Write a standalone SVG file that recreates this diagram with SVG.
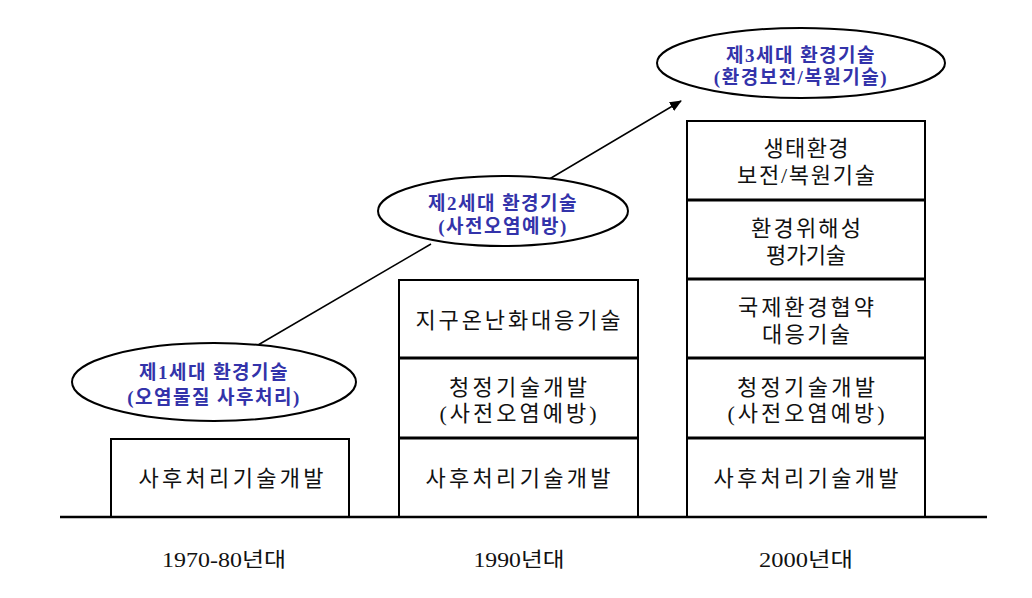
<svg xmlns="http://www.w3.org/2000/svg" width="1032" height="598" viewBox="0 0 1032 598">
<defs>
<style>
.box{fill:#fff;stroke:#000;stroke-width:2}
.div{stroke:#000;stroke-width:3}
.t{font-family:"Liberation Serif","Noto Sans CJK KR",serif;font-size:22px;fill:#111;text-anchor:middle}
.e{fill:#fff;stroke:#000;stroke-width:2}
.et{font-family:"Liberation Serif","Noto Sans CJK KR",serif;font-size:19px;font-weight:bold;fill:#3333aa;text-anchor:middle;letter-spacing:1.5px}
.lab{font-family:"Liberation Serif","Noto Sans CJK KR",serif;font-size:20px;fill:#111;text-anchor:middle}
.ln{stroke:#000;stroke-width:1.5;fill:none}
</style>
<marker id="arr" viewBox="0 0 12 10" refX="11" refY="5" markerWidth="12" markerHeight="10" markerUnits="userSpaceOnUse" orient="auto">
<path d="M0,0 L12,5 L0,10 z" fill="#000"/>
</marker>
</defs>
<rect width="1032" height="598" fill="#fff"/>

<g id="connectors">
<line class="ln" x1="258" y1="345" x2="431" y2="244"/>
<line class="ln" x1="546" y1="181" x2="681" y2="101" marker-end="url(#arr)"/>
</g>

<g id="era1">
<rect class="box" x="111" y="439" width="238" height="78"/>
<text class="t" x="231" y="486" textLength="185" lengthAdjust="spacing">사후처리기술개발</text>
</g>

<g id="era2">
<rect class="box" x="399" y="280" width="239" height="237"/>
<line class="div" x1="399" y1="358" x2="638" y2="358"/>
<line class="div" x1="399" y1="438" x2="638" y2="438"/>
<text class="t" x="518" y="328" textLength="205" lengthAdjust="spacing">지구온난화대응기술</text>
<text class="t" x="518" y="395" textLength="138" lengthAdjust="spacing">청정기술개발</text>
<text class="t" x="518" y="421" textLength="157" lengthAdjust="spacing">(사전오염예방)</text>
<text class="t" x="518" y="486" textLength="185" lengthAdjust="spacing">사후처리기술개발</text>
</g>

<g id="era3">
<rect class="box" x="687" y="121" width="238" height="396"/>
<line class="div" x1="687" y1="200" x2="925" y2="200"/>
<line class="div" x1="687" y1="279" x2="925" y2="279"/>
<line class="div" x1="687" y1="358" x2="925" y2="358"/>
<line class="div" x1="687" y1="438" x2="925" y2="438"/>
<text class="t" x="806" y="156" textLength="85" lengthAdjust="spacing">생태환경</text>
<text class="t" x="806" y="183" textLength="138" lengthAdjust="spacing">보전/복원기술</text>
<text class="t" x="806" y="236" textLength="110" lengthAdjust="spacing">환경위해성</text>
<text class="t" x="806" y="263" textLength="80" lengthAdjust="spacing">평가기술</text>
<text class="t" x="806" y="315" textLength="136" lengthAdjust="spacing">국제환경협약</text>
<text class="t" x="806" y="342" textLength="88" lengthAdjust="spacing">대응기술</text>
<text class="t" x="806" y="395" textLength="138" lengthAdjust="spacing">청정기술개발</text>
<text class="t" x="806" y="421" textLength="157" lengthAdjust="spacing">(사전오염예방)</text>
<text class="t" x="806" y="486" textLength="185" lengthAdjust="spacing">사후처리기술개발</text>
</g>

<g id="gen1">
<ellipse class="e" cx="214" cy="382" rx="142" ry="39"/>
<text class="et" x="214" y="379">제1세대 환경기술</text>
<text class="et" x="214" y="404">(오염물질 사후처리)</text>
</g>

<g id="gen2">
<ellipse class="e" cx="503" cy="211" rx="125" ry="35"/>
<text class="et" x="503" y="210">제2세대 환경기술</text>
<text class="et" x="503" y="233">(사전오염예방)</text>
</g>

<g id="gen3">
<ellipse class="e" cx="801" cy="63" rx="144" ry="35"/>
<text class="et" x="801" y="62">제3세대 환경기술</text>
<text class="et" x="801" y="84">(환경보전/복원기술)</text>
</g>

<g id="axis">
<line x1="60" y1="517" x2="987" y2="517" stroke="#000" stroke-width="2.5"/>
<text class="lab" x="224" y="567" textLength="124" lengthAdjust="spacingAndGlyphs">1970-80년대</text>
<text class="lab" x="519" y="567" textLength="91" lengthAdjust="spacingAndGlyphs">1990년대</text>
<text class="lab" x="806" y="567" textLength="94" lengthAdjust="spacingAndGlyphs">2000년대</text>
</g>
</svg>
